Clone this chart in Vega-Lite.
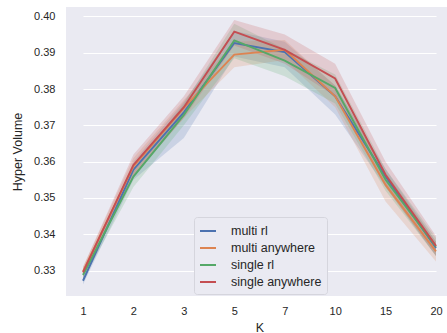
{
  "$schema": "https://vega.github.io/schema/vega-lite/v6.json",
  "width": 381,
  "height": 289,
  "autosize": {"type": "none"},
  "padding": {"left": 66, "top": 7, "right": 0, "bottom": 37},
  "background": "white",
  "config": {
    "view": {"fill": "#EAEAF2", "stroke": null},
    "font": "Liberation Sans",
    "axis": {
      "domain": false,
      "ticks": false,
      "gridColor": "white",
      "gridWidth": 1.2,
      "labelColor": "#262626",
      "titleColor": "#262626",
      "labelFontSize": 11,
      "titleFontSize": 12.5,
      "titleFontWeight": "normal"
    }
  },
  "data": {
    "values": [
      {"K": "1", "method": "multi rl", "hv": 0.3272, "lo": 0.3262, "hi": 0.3285},
      {"K": "2", "method": "multi rl", "hv": 0.3578, "lo": 0.355, "hi": 0.360},
      {"K": "3", "method": "multi rl", "hv": 0.3736, "lo": 0.3665, "hi": 0.3765},
      {"K": "5", "method": "multi rl", "hv": 0.3927, "lo": 0.389, "hi": 0.396},
      {"K": "7", "method": "multi rl", "hv": 0.3902, "lo": 0.386, "hi": 0.393},
      {"K": "10", "method": "multi rl", "hv": 0.378, "lo": 0.373, "hi": 0.381},
      {"K": "15", "method": "multi rl", "hv": 0.3559, "lo": 0.353, "hi": 0.358},
      {"K": "20", "method": "multi rl", "hv": 0.3362, "lo": 0.334, "hi": 0.338},
      {"K": "1", "method": "multi anywhere", "hv": 0.3298, "lo": 0.3285, "hi": 0.331},
      {"K": "2", "method": "multi anywhere", "hv": 0.3587, "lo": 0.356, "hi": 0.361},
      {"K": "3", "method": "multi anywhere", "hv": 0.3748, "lo": 0.372, "hi": 0.377},
      {"K": "5", "method": "multi anywhere", "hv": 0.3895, "lo": 0.386, "hi": 0.393},
      {"K": "7", "method": "multi anywhere", "hv": 0.3908, "lo": 0.388, "hi": 0.3935},
      {"K": "10", "method": "multi anywhere", "hv": 0.378, "lo": 0.375, "hi": 0.381},
      {"K": "15", "method": "multi anywhere", "hv": 0.3536, "lo": 0.349, "hi": 0.357},
      {"K": "20", "method": "multi anywhere", "hv": 0.3353, "lo": 0.3325, "hi": 0.338},
      {"K": "1", "method": "single rl", "hv": 0.3288, "lo": 0.3275, "hi": 0.330},
      {"K": "2", "method": "single rl", "hv": 0.3559, "lo": 0.353, "hi": 0.358},
      {"K": "3", "method": "single rl", "hv": 0.3729, "lo": 0.370, "hi": 0.376},
      {"K": "5", "method": "single rl", "hv": 0.3934, "lo": 0.3885, "hi": 0.398},
      {"K": "7", "method": "single rl", "hv": 0.3878, "lo": 0.3835, "hi": 0.391},
      {"K": "10", "method": "single rl", "hv": 0.3803, "lo": 0.376, "hi": 0.384},
      {"K": "15", "method": "single rl", "hv": 0.355, "lo": 0.352, "hi": 0.358},
      {"K": "20", "method": "single rl", "hv": 0.3366, "lo": 0.334, "hi": 0.339},
      {"K": "1", "method": "single anywhere", "hv": 0.3295, "lo": 0.328, "hi": 0.331},
      {"K": "2", "method": "single anywhere", "hv": 0.3591, "lo": 0.356, "hi": 0.362},
      {"K": "3", "method": "single anywhere", "hv": 0.375, "lo": 0.372, "hi": 0.378},
      {"K": "5", "method": "single anywhere", "hv": 0.3958, "lo": 0.392, "hi": 0.399},
      {"K": "7", "method": "single anywhere", "hv": 0.3908, "lo": 0.387, "hi": 0.395},
      {"K": "10", "method": "single anywhere", "hv": 0.3829, "lo": 0.378, "hi": 0.387},
      {"K": "15", "method": "single anywhere", "hv": 0.3564, "lo": 0.353, "hi": 0.360},
      {"K": "20", "method": "single anywhere", "hv": 0.3368, "lo": 0.334, "hi": 0.3395}
    ]
  },
  "encoding": {
    "x": {
      "field": "K",
      "type": "ordinal",
      "sort": ["1", "2", "3", "5", "7", "10", "15", "20"],
      "scale": {"type": "point", "range": [17, 370], "padding": 0},
      "axis": {"labelAngle": 0, "title": "K", "labelPadding": 9, "titlePadding": 5}
    },
    "color": {
      "field": "method",
      "type": "nominal",
      "scale": {
        "domain": ["multi rl", "multi anywhere", "single rl", "single anywhere"],
        "range": ["#4C72B0", "#DD8452", "#55A868", "#C44E52"]
      },
      "legend": {
        "title": null,
        "orient": "none",
        "legendX": 128,
        "legendY": 210,
        "symbolType": "stroke",
        "symbolStrokeWidth": 2,
        "symbolSize": 256,
        "symbolOpacity": 1,
        "labelOffset": 14,
        "labelFontSize": 12.5,
        "labelColor": "#262626",
        "rowPadding": 1,
        "padding": 5,
        "fillColor": "#EAEAF2",
        "strokeColor": "#D5D5DD",
        "cornerRadius": 3
      }
    }
  },
  "layer": [
    {
      "mark": {"type": "area", "opacity": 0.2},
      "encoding": {
        "y": {
          "field": "lo",
          "type": "quantitative",
          "scale": {"domain": [0.323, 0.4026], "nice": false, "zero": false},
          "axis": {
            "values": [0.33, 0.34, 0.35, 0.36, 0.37, 0.38, 0.39, 0.40],
            "format": ".2f",
            "title": "Hyper Volume",
            "labelPadding": 11,
            "titlePadding": 9
          }
        },
        "y2": {"field": "hi"}
      }
    },
    {
      "mark": {"type": "line", "strokeWidth": 1.9},
      "encoding": {
        "y": {"field": "hv", "type": "quantitative"}
      }
    }
  ]
}
